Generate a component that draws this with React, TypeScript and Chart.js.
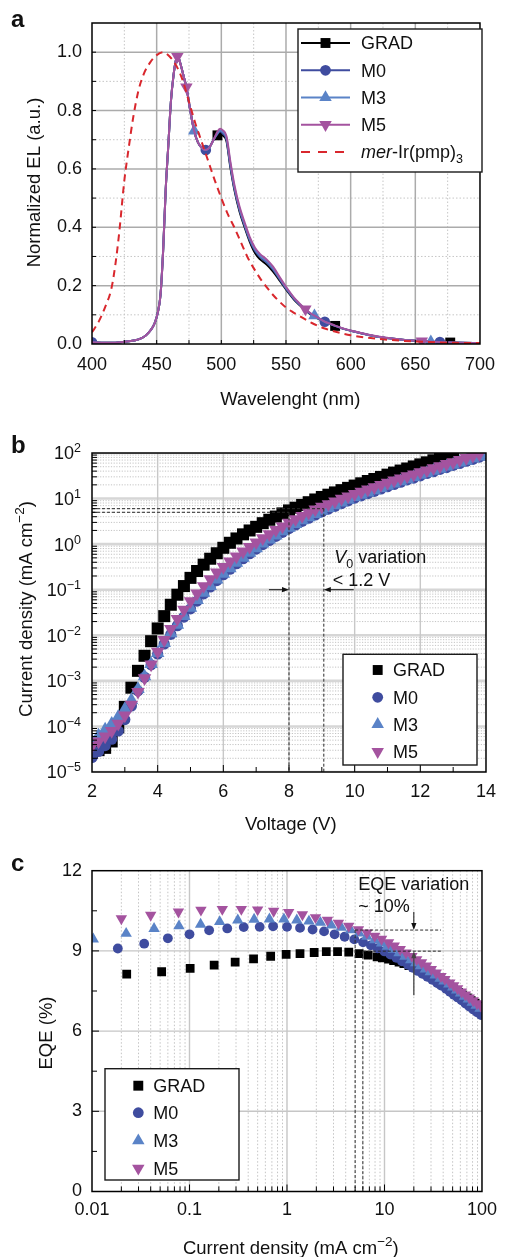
import React, { useEffect, useRef } from "react";
import { Chart, registerables } from "chart.js";

Chart.register(...registerables);

const FONT = '"Liberation Sans", Arial, Helvetica, sans-serif';
const INK = "#111111";

// ---------- shared series identity ----------
const seriesNames = ["GRAD", "M0", "M3", "M5"];
const seriesColors = ["#000000", "#3f4c9f", "#5a83c7", "#a4539f"];
const seriesShapes = ["rect", "circle", "triangle", "triangle"];
const seriesRotations = [0, 0, 0, 180];
const refName = "mer-Ir(pmp)3";
const refColor = "#d9272d";

// ---------- panel a : normalized EL spectra ----------
const wavelengths = [400, 410, 420, 430, 436, 440, 444, 447, 449, 451, 453, 455, 457, 459, 461, 463, 465, 466, 467, 469, 471, 473, 476, 479, 482, 485, 488, 491, 494, 497, 499, 501, 504, 507, 510, 514, 518, 522, 526, 530, 535, 540, 545, 550, 556, 560, 565, 568, 572, 576, 580, 584, 588, 596, 605, 615, 625, 640, 648, 655, 662, 669, 677, 685, 700];
const elGRAD = [0.006, 0.004, 0.005, 0.01, 0.016, 0.024, 0.04, 0.058, 0.078, 0.11, 0.17, 0.32, 0.53, 0.68, 0.83, 0.92, 0.975, 0.985, 0.98, 0.95, 0.915, 0.88, 0.8, 0.73, 0.69, 0.672, 0.665, 0.675, 0.7, 0.715, 0.72, 0.715, 0.695, 0.605, 0.53, 0.455, 0.4, 0.35, 0.312, 0.29, 0.272, 0.248, 0.218, 0.187, 0.153, 0.135, 0.116, 0.105, 0.094, 0.084, 0.075, 0.068, 0.062, 0.05, 0.04, 0.03, 0.022, 0.015, 0.012, 0.01, 0.008, 0.0065, 0.005, 0.004, 0.003];
const elM0 = [0.006, 0.004, 0.005, 0.01, 0.016, 0.024, 0.04, 0.058, 0.078, 0.11, 0.17, 0.32, 0.53, 0.68, 0.83, 0.92, 0.975, 0.985, 0.98, 0.95, 0.915, 0.88, 0.8, 0.73, 0.69, 0.672, 0.665, 0.675, 0.7, 0.72, 0.728, 0.722, 0.7, 0.61, 0.535, 0.46, 0.405, 0.355, 0.32, 0.298, 0.28, 0.255, 0.222, 0.19, 0.155, 0.137, 0.117, 0.106, 0.095, 0.085, 0.076, 0.069, 0.062, 0.05, 0.04, 0.03, 0.022, 0.015, 0.012, 0.01, 0.008, 0.0065, 0.005, 0.004, 0.003];
const elM3 = [0.006, 0.004, 0.005, 0.01, 0.016, 0.024, 0.04, 0.058, 0.078, 0.11, 0.17, 0.32, 0.53, 0.68, 0.83, 0.92, 0.975, 0.985, 0.98, 0.95, 0.915, 0.88, 0.8, 0.73, 0.69, 0.672, 0.665, 0.675, 0.7, 0.722, 0.732, 0.727, 0.706, 0.617, 0.54, 0.465, 0.41, 0.36, 0.325, 0.302, 0.284, 0.259, 0.226, 0.193, 0.158, 0.139, 0.119, 0.108, 0.097, 0.086, 0.076, 0.069, 0.062, 0.05, 0.04, 0.03, 0.022, 0.015, 0.012, 0.01, 0.008, 0.0065, 0.005, 0.004, 0.003];
const elM5 = [0.006, 0.004, 0.005, 0.01, 0.016, 0.024, 0.04, 0.058, 0.078, 0.11, 0.17, 0.32, 0.53, 0.68, 0.83, 0.92, 0.975, 0.985, 0.98, 0.95, 0.915, 0.88, 0.8, 0.73, 0.69, 0.672, 0.665, 0.675, 0.7, 0.728, 0.738, 0.733, 0.712, 0.625, 0.548, 0.472, 0.417, 0.366, 0.33, 0.308, 0.29, 0.265, 0.23, 0.196, 0.16, 0.141, 0.12, 0.109, 0.097, 0.087, 0.077, 0.07, 0.063, 0.051, 0.041, 0.031, 0.023, 0.015, 0.012, 0.01, 0.008, 0.0065, 0.005, 0.004, 0.003];
const markersGRAD = [497, 588, 677];
const markersM0 = [400, 488, 580, 669];
const markersM3 = [479, 572, 662];
const markersM5 = [466, 473, 565, 655];
const refWavelengths = [400, 405, 410, 415, 418, 421, 425, 428, 432, 436, 440, 445, 450, 455, 460, 465, 470, 475, 480, 485, 490, 495, 500, 505, 510, 515, 520, 525, 530, 535, 540, 545, 550, 555, 560, 570, 580, 590, 600, 620, 640, 660, 680, 700];
const refEL = [0.04, 0.075, 0.125, 0.19, 0.27, 0.38, 0.56, 0.66, 0.78, 0.87, 0.925, 0.965, 0.99, 1.0, 0.985, 0.955, 0.905, 0.83, 0.755, 0.69, 0.625, 0.56, 0.5, 0.445, 0.4, 0.35, 0.3, 0.26, 0.225, 0.195, 0.168, 0.145, 0.125, 0.11, 0.097, 0.072, 0.053, 0.04, 0.03, 0.018, 0.011, 0.007, 0.004, 0.003];
const aXTicks = [400, 450, 500, 550, 600, 650, 700];
const aYTicks = [0, 0.2, 0.4, 0.6, 0.8, 1.0];
const aXMajorGrid = [450, 500, 550, 600, 650];
const aXMinorGrid = [425, 475, 525, 575, 625, 675];
const aYMajorGrid = [0.2, 0.4, 0.6, 0.8, 1.0];
const aYMinorGrid = [0.1, 0.3, 0.5, 0.7, 0.9];

// ---------- panel b : J–V (log10 of current density, mA cm-2) ----------
const voltages = [2.0, 2.2, 2.4, 2.6, 2.8, 3.0, 3.2, 3.4, 3.6, 3.8, 4.0, 4.2, 4.4, 4.6, 4.8, 5.0, 5.2, 5.4, 5.6, 5.8, 6.0, 6.2, 6.4, 6.6, 6.8, 7.0, 7.2, 7.4, 7.6, 7.8, 8.0, 8.2, 8.4, 8.6, 8.8, 9.0, 9.2, 9.4, 9.6, 9.8, 10.0, 10.2, 10.4, 10.6, 10.8, 11.0, 11.2, 11.4, 11.6, 11.8, 12.0, 12.2, 12.4, 12.6, 12.8, 13.0, 13.2, 13.4, 13.6, 13.8, 14.0];
const jvLogGRAD = [-4.58, -4.52, -4.47, -4.33, -4.02, -3.57, -3.15, -2.78, -2.45, -2.13, -1.85, -1.58, -1.33, -1.11, -0.92, -0.74, -0.59, -0.45, -0.32, -0.2, -0.08, 0.03, 0.125, 0.215, 0.3, 0.38, 0.46, 0.535, 0.605, 0.675, 0.74, 0.8, 0.86, 0.92, 0.98, 1.035, 1.085, 1.135, 1.185, 1.235, 1.285, 1.335, 1.385, 1.43, 1.475, 1.525, 1.57, 1.615, 1.66, 1.705, 1.75, 1.795, 1.84, 1.885, 1.93, 1.975];
const jvLogM0 = [-4.68, -4.55, -4.42, -4.28, -4.1, -3.85, -3.55, -3.22, -2.92, -2.65, -2.41, -2.19, -1.98, -1.79, -1.6, -1.42, -1.25, -1.09, -0.94, -0.8, -0.67, -0.55, -0.43, -0.32, -0.21, -0.11, -0.01, 0.08, 0.17, 0.26, 0.34, 0.42, 0.5, 0.57, 0.64, 0.71, 0.77, 0.83, 0.89, 0.95, 1.01, 1.06, 1.11, 1.16, 1.21, 1.26, 1.31, 1.36, 1.41, 1.45, 1.5, 1.55, 1.59, 1.64, 1.68, 1.73, 1.77, 1.82, 1.86, 1.91, 1.95];
const jvLogM3 = [-4.32, -4.2, -4.07, -3.94, -3.79, -3.62, -3.42, -3.18, -2.9, -2.63, -2.39, -2.17, -1.96, -1.77, -1.58, -1.4, -1.23, -1.07, -0.92, -0.78, -0.65, -0.53, -0.41, -0.3, -0.19, -0.09, 0.01, 0.1, 0.19, 0.28, 0.36, 0.44, 0.52, 0.59, 0.66, 0.73, 0.79, 0.85, 0.91, 0.97, 1.03, 1.08, 1.13, 1.18, 1.23, 1.28, 1.33, 1.38, 1.42, 1.47, 1.52, 1.56, 1.61, 1.65, 1.7, 1.74, 1.79, 1.83, 1.88, 1.92, 1.97];
const jvLogM5 = [-4.43, -4.33, -4.22, -4.1, -3.94, -3.76, -3.52, -3.24, -2.94, -2.64, -2.36, -2.1, -1.86, -1.64, -1.44, -1.25, -1.08, -0.92, -0.77, -0.62, -0.5, -0.38, -0.27, -0.16, -0.06, 0.04, 0.13, 0.22, 0.31, 0.39, 0.47, 0.55, 0.62, 0.69, 0.76, 0.82, 0.88, 0.94, 1.0, 1.05, 1.1, 1.15, 1.2, 1.25, 1.3, 1.35, 1.4, 1.44, 1.49, 1.53, 1.58, 1.62, 1.67, 1.71, 1.76, 1.8, 1.85, 1.89, 1.94, 1.98];
const bXTicks = [2, 4, 6, 8, 10, 12, 14];
const bYDecades = [-5, -4, -3, -2, -1, 0, 1, 2];
const bXMajorGrid = [4, 6, 8, 10, 12];
const bXMinorTicks = [3, 5, 7, 9, 11, 13];
const bGuideJ = [6, 5];
const bGuideV = [9.06, 8.0];
const bArrowJ = 0.1;
const bArrowFromV = [7.39, 9.97];

// ---------- panel c : EQE vs current density ----------
const eqeJGRAD = [0.0227, 0.0518, 0.1016, 0.179, 0.294, 0.454, 0.68, 0.98, 1.36, 1.9, 2.53, 3.3, 4.3, 5.5, 6.8, 8.4, 9.5, 11, 12.4, 14.1, 15.8, 17.8, 20, 22.4, 25.1, 28.2, 30.9, 34.7, 38, 42.7, 46.8, 51.3, 57.5, 63.1, 70.8, 77.6, 85.1, 95.5];
const eqeGRAD = [8.13, 8.22, 8.35, 8.47, 8.58, 8.7, 8.8, 8.87, 8.9, 8.94, 8.97, 8.97, 8.95, 8.9, 8.84, 8.78, 8.74, 8.69, 8.64, 8.58, 8.52, 8.45, 8.38, 8.3, 8.22, 8.13, 8.05, 7.95, 7.86, 7.76, 7.66, 7.56, 7.45, 7.35, 7.24, 7.14, 7.05, 6.95];
const eqeJM0 = [0.0184, 0.0343, 0.06, 0.1, 0.159, 0.244, 0.36, 0.525, 0.72, 1.0, 1.36, 1.83, 2.4, 3.08, 3.9, 4.9, 6.03, 7.24, 8.51, 10, 11.5, 13.2, 15.1, 17.4, 19.5, 21.9, 24.5, 27.5, 30.9, 34.7, 38.0, 42.7, 46.8, 51.3, 56.2, 61.7, 67.6, 74.1, 81.3, 89.1, 97.7];
const eqeM0 = [9.09, 9.27, 9.47, 9.62, 9.77, 9.84, 9.89, 9.9, 9.92, 9.9, 9.86, 9.8, 9.73, 9.62, 9.53, 9.43, 9.32, 9.21, 9.1, 8.98, 8.86, 8.74, 8.61, 8.48, 8.37, 8.25, 8.14, 8.03, 7.92, 7.8, 7.7, 7.58, 7.47, 7.36, 7.26, 7.15, 7.03, 6.92, 6.81, 6.7, 6.6];
const eqeJM3 = [0.0103, 0.0224, 0.0433, 0.078, 0.13, 0.204, 0.313, 0.46, 0.66, 0.93, 1.26, 1.68, 2.2, 2.85, 3.6, 4.5, 5.5, 6.6, 7.94, 9.33, 10.7, 12.3, 14.1, 16.2, 18.6, 20.9, 23.4, 26.3, 29.5, 33.1, 37.2, 40.7, 45.7, 50.1, 55.0, 60.3, 66.1, 72.4, 79.4, 87.1, 95.5];
const eqeM3 = [9.44, 9.65, 9.83, 9.93, 9.99, 10.09, 10.15, 10.18, 10.19, 10.19, 10.15, 10.11, 10.06, 9.96, 9.88, 9.78, 9.66, 9.54, 9.41, 9.29, 9.17, 9.05, 8.92, 8.79, 8.66, 8.55, 8.44, 8.32, 8.21, 8.09, 7.97, 7.87, 7.75, 7.64, 7.53, 7.42, 7.3, 7.19, 7.07, 6.96, 6.85];
const eqeJM5 = [0.02, 0.04, 0.077, 0.131, 0.217, 0.34, 0.5, 0.73, 1.04, 1.44, 1.96, 2.6, 3.37, 4.3, 5.4, 6.6, 7.94, 9.33, 11.0, 12.6, 14.5, 16.6, 19.1, 21.4, 24.0, 26.9, 30.2, 33.9, 38.0, 41.7, 46.8, 51.3, 56.2, 61.7, 67.6, 74.1, 81.3, 89.1, 97.7];
const eqeM5 = [10.21, 10.34, 10.46, 10.53, 10.56, 10.56, 10.54, 10.49, 10.44, 10.36, 10.25, 10.15, 10.04, 9.93, 9.8, 9.68, 9.56, 9.44, 9.31, 9.19, 9.06, 8.93, 8.8, 8.68, 8.56, 8.44, 8.31, 8.18, 8.05, 7.94, 7.81, 7.7, 7.59, 7.47, 7.36, 7.25, 7.14, 7.03, 6.93];
const cXTicks = [0.01, 0.1, 1, 10, 100];
const cYTicks = [0, 3, 6, 9, 12];
const cXMajorGrid = [0.1, 1, 10];
const cYMajorGrid = [3, 6, 9];
const cYMinorTicks = [1.5, 4.5, 7.5, 10.5];
const cGuideJ = [5, 6];
const cGuideEQE = [9.78, 8.99];
const cGuideJEnd = 38;
const cArrowJ = 20;
const cArrowFromEQE = [10.46, 7.34];

// ---------- styles ----------
const aMarkerRadius = [7, 5.3, 7.2, 7.2];
const bMarkerRadius = [8.5, 5.6, 7.8, 7.8];
const cMarkerRadius = [6.2, 4.9, 6.6, 6.6];
const legendRadius = [7, 5.4, 7.2, 7.2];
const TITLE_SIZE = 18.5;

// ---------- drawing helpers ----------
type Run = { t: string; size?: number; italic?: boolean; bold?: boolean; dy?: number };

function fontOf(r: Run) {
  return `${r.italic ? "italic " : ""}${r.bold ? "bold " : ""}${r.size ?? 18}px ${FONT}`;
}

function drawRuns(ctx: any, runs: Run[], x: number, y: number, align = "left", angle = 0) {
  ctx.save();
  ctx.translate(x, y);
  if (angle) ctx.rotate(angle);
  ctx.fillStyle = INK;
  ctx.textBaseline = "alphabetic";
  ctx.textAlign = "left";
  let w = 0;
  for (const r of runs) {
    ctx.font = fontOf(r);
    w += ctx.measureText(r.t).width;
  }
  let cx = align === "center" ? -w / 2 : align === "right" ? -w : 0;
  for (const r of runs) {
    ctx.font = fontOf(r);
    ctx.fillText(r.t, cx, r.dy ?? 0);
    cx += ctx.measureText(r.t).width;
  }
  ctx.restore();
}

function marker(ctx: any, shape: string, rot: number, x: number, y: number, r: number, color: string) {
  ctx.save();
  ctx.fillStyle = color;
  ctx.beginPath();
  if (shape === "rect") {
    const s = r * Math.SQRT1_2;
    ctx.rect(x - s, y - s, 2 * s, 2 * s);
  } else if (shape === "circle") {
    ctx.arc(x, y, r, 0, Math.PI * 2);
  } else {
    let a = (rot * Math.PI) / 180;
    ctx.moveTo(x + Math.sin(a) * r, y - Math.cos(a) * r);
    a += (2 * Math.PI) / 3;
    ctx.lineTo(x + Math.sin(a) * r, y - Math.cos(a) * r);
    a += (2 * Math.PI) / 3;
    ctx.lineTo(x + Math.sin(a) * r, y - Math.cos(a) * r);
    ctx.closePath();
  }
  ctx.fill();
  ctx.restore();
}

function px(chart: any, axis: string, v: number) {
  return chart.scales[axis].getPixelForValue(v);
}

function gridLines(chart: any, axis: string, values: number[], color: string, width: number, dash: number[]) {
  const { ctx, chartArea: a } = chart;
  ctx.save();
  ctx.beginPath();
  ctx.rect(a.left, a.top, a.right - a.left, a.bottom - a.top);
  ctx.clip();
  ctx.strokeStyle = color;
  ctx.lineWidth = width;
  ctx.setLineDash(dash);
  for (const v of values) {
    const p = px(chart, axis, v);
    ctx.beginPath();
    if (axis === "x") {
      ctx.moveTo(p, a.top);
      ctx.lineTo(p, a.bottom);
    } else {
      ctx.moveTo(a.left, p);
      ctx.lineTo(a.right, p);
    }
    ctx.stroke();
  }
  ctx.restore();
}

function inwardTicks(chart: any, axis: string, values: number[], len: number) {
  const { ctx, chartArea: a } = chart;
  ctx.save();
  ctx.strokeStyle = "#000";
  ctx.lineWidth = 1;
  ctx.setLineDash([]);
  for (const v of values) {
    const p = px(chart, axis, v);
    ctx.beginPath();
    if (axis === "x") {
      ctx.moveTo(p, a.bottom);
      ctx.lineTo(p, a.bottom - len);
    } else {
      ctx.moveTo(a.left, p);
      ctx.lineTo(a.left + len, p);
    }
    ctx.stroke();
  }
  ctx.restore();
}

function frame(chart: any) {
  const { ctx, chartArea: a } = chart;
  ctx.save();
  ctx.strokeStyle = "#000";
  ctx.lineWidth = 1.5;
  ctx.setLineDash([]);
  ctx.strokeRect(a.left, a.top, a.right - a.left, a.bottom - a.top);
  ctx.restore();
}

function dashedSeg(chart: any, x1: number, y1: number, x2: number, y2: number) {
  const ctx = chart.ctx;
  ctx.save();
  ctx.strokeStyle = "#2a2a2a";
  ctx.lineWidth = 1;
  ctx.setLineDash([3, 2]);
  ctx.beginPath();
  ctx.moveTo(px(chart, "x", x1), px(chart, "y", y1));
  ctx.lineTo(px(chart, "x", x2), px(chart, "y", y2));
  ctx.stroke();
  ctx.restore();
}

function arrow(chart: any, x1: number, y1: number, x2: number, y2: number, color: string, width: number) {
  const ctx = chart.ctx;
  const ax = px(chart, "x", x1), ay = px(chart, "y", y1);
  const bx = px(chart, "x", x2), by = px(chart, "y", y2);
  const ang = Math.atan2(by - ay, bx - ax);
  const hl = 7, hw = 2.6;
  const c = Math.cos(ang), s = Math.sin(ang);
  ctx.save();
  ctx.strokeStyle = color;
  ctx.fillStyle = color;
  ctx.lineWidth = width;
  ctx.setLineDash([]);
  ctx.beginPath();
  ctx.moveTo(ax, ay);
  ctx.lineTo(bx - c * hl * 0.8, by - s * hl * 0.8);
  ctx.stroke();
  ctx.beginPath();
  ctx.moveTo(bx, by);
  ctx.lineTo(bx - c * hl - s * hw, by - s * hl + c * hw);
  ctx.lineTo(bx - c * hl + s * hw, by - s * hl - c * hw);
  ctx.closePath();
  ctx.fill();
  ctx.restore();
}

function legendFrame(ctx: any, x: number, y: number, w: number, h: number) {
  ctx.save();
  ctx.fillStyle = "#ffffff";
  ctx.fillRect(x, y, w, h);
  ctx.strokeStyle = "#1a1a1a";
  ctx.lineWidth = 1.4;
  ctx.setLineDash([]);
  ctx.strokeRect(x, y, w, h);
  ctx.restore();
}

function logMinors(fromExp: number, toExp: number) {
  const out: number[] = [];
  for (let e = fromExp; e < toExp; e++) for (let k = 2; k <= 9; k++) out.push(k * Math.pow(10, e));
  return out;
}

const refRuns: Run[] = [{ t: "mer", italic: true }, { t: "-Ir(pmp)" }, { t: "3", size: 12.5, dy: 5 }];
const jUnitRuns: Run[] = [{ t: "Current density (mA cm", size: TITLE_SIZE }, { t: "\u22122", size: 13.5, dy: -7.5 }, { t: ")", size: TITLE_SIZE }];

function scatterLegend(chart: any, bx: number, by: number, bw: number, bh: number, rows: number[], mx: number, tx: number) {
  const ctx = chart.ctx;
  legendFrame(ctx, bx, by, bw, bh);
  chart.data.datasets.forEach((ds: any, i: number) => {
    marker(ctx, ds.pointStyle, ds.pointRotation, mx, rows[i], legendRadius[i], ds.pointBackgroundColor);
    drawRuns(ctx, [{ t: ds.label }], tx, rows[i] + 6.4, "left");
  });
}

function decor(under: (c: any) => void, over: (c: any) => void) {
  return {
    id: "decor",
    beforeDatasetsDraw(chart: any) {
      under(chart);
    },
    afterDatasetsDraw(chart: any) {
      over(chart);
    },
  };
}

// ---------- axis builders ----------
const tickFont = { family: FONT, size: 18 };

function xAxis(type: string, min: number, max: number, values: number[], height: number, pad: number, fmt: (v: number) => string) {
  return {
    type, min, max, position: "bottom",
    grid: { display: false, drawTicks: false },
    border: { display: false },
    afterBuildTicks: (s: any) => { s.ticks = values.map((v) => ({ value: v })); },
    afterFit: (s: any) => { s.height = height; },
    ticks: { display: true, font: tickFont, color: INK, padding: pad, autoSkip: false, maxRotation: 0, minRotation: 0, callback: (v: any) => fmt(Number(v)) },
  };
}

function yAxis(type: string, min: number, max: number, values: number[], show: boolean, fmt: (v: number) => string) {
  return {
    type, min, max, position: "left",
    grid: { display: false, drawTicks: false },
    border: { display: false },
    afterBuildTicks: (s: any) => { s.ticks = values.map((v) => ({ value: v })); },
    afterFit: (s: any) => { s.width = 92; },
    ticks: { display: show, font: tickFont, color: INK, padding: 10, autoSkip: false, callback: (v: any) => fmt(Number(v)) },
  };
}

function baseOptions(x: any, y: any, padTop: number): any {
  return {
    responsive: false,
    maintainAspectRatio: false,
    animation: false,
    devicePixelRatio: 1,
    events: [],
    layout: { padding: { left: 0, right: 17, top: padTop, bottom: 0 } },
    plugins: { legend: { display: false }, tooltip: { enabled: false }, title: { display: false } },
    scales: { x, y },
  };
}

// ---------- panel a ----------
function underA(chart: any) {
  gridLines(chart, "x", aXMinorGrid, "#c6c6c6", 1, [1.5, 2]);
  gridLines(chart, "y", aYMinorGrid, "#c6c6c6", 1, [1.5, 2]);
  gridLines(chart, "x", aXMajorGrid, "#ababab", 1.5, []);
  gridLines(chart, "y", aYMajorGrid, "#ababab", 1.5, []);
}

function overA(chart: any) {
  const ctx = chart.ctx;
  frame(chart);
  inwardTicks(chart, "x", aXMajorGrid.concat(aXMinorGrid), 4);
  inwardTicks(chart, "y", aYMajorGrid.concat(aYMinorGrid), 4);
  legendFrame(ctx, 298, 29, 184, 143);
  const rows = [43, 70.3, 97.5, 124.7, 152];
  chart.data.datasets.forEach((ds: any, i: number) => {
    const y = rows[i];
    ctx.save();
    ctx.strokeStyle = ds.borderColor;
    ctx.lineWidth = 2;
    ctx.setLineDash(ds.borderDash ? [9, 8] : []);
    ctx.beginPath();
    ctx.moveTo(301, y);
    ctx.lineTo(350, y);
    ctx.stroke();
    ctx.restore();
    if (!ds.borderDash) marker(ctx, ds.pointStyle, ds.pointRotation, 325.5, y, legendRadius[i], ds.borderColor);
    drawRuns(ctx, ds.label === refName ? refRuns : [{ t: ds.label }], 361, y + 6.4, "left");
  });
  drawRuns(ctx, [{ t: "Normalized EL (a.u.)", size: TITLE_SIZE }], 33 + 6.5, 182.5, "center", -Math.PI / 2);
  drawRuns(ctx, [{ t: "Wavelenght (nm)", size: TITLE_SIZE }], 290.3, 398 + 6.5, "center");
  drawRuns(ctx, [{ t: "a", bold: true, size: 24 }], 11, 26.7, "left");
}

function buildA(): any {
  const vals = [elGRAD, elM0, elM3, elM5];
  const marks = [markersGRAD, markersM0, markersM3, markersM5];
  const datasets: any[] = vals.map((v, i) => ({
    type: "line",
    label: seriesNames[i],
    data: v.map((y, k) => ({ x: wavelengths[k], y })),
    borderColor: seriesColors[i],
    backgroundColor: seriesColors[i],
    borderWidth: 2,
    fill: false,
    cubicInterpolationMode: "monotone",
    pointStyle: seriesShapes[i],
    pointRotation: seriesRotations[i],
    pointBackgroundColor: seriesColors[i],
    pointBorderColor: seriesColors[i],
    pointBorderWidth: 0,
    pointRadius: (c: any) => (marks[i].includes(wavelengths[c.dataIndex]) ? aMarkerRadius[i] : 0),
    order: 4 - i,
  }));
  datasets.push({
    type: "line",
    label: refName,
    data: refWavelengths.map((x, k) => ({ x, y: refEL[k] })),
    borderColor: refColor,
    backgroundColor: refColor,
    borderWidth: 2,
    borderDash: [7, 5],
    fill: false,
    cubicInterpolationMode: "monotone",
    pointRadius: 0,
    order: 0,
  });
  const options = baseOptions(
    xAxis("linear", 400, 700, aXTicks, 76, 10, (v) => String(v)),
    yAxis("linear", 0, 1.1, aYTicks, true, (v) => v.toFixed(1)),
    23
  );
  return { type: "line", data: { datasets }, options, plugins: [decor(underA, overA)] };
}

// ---------- panel b ----------
function underB(chart: any) {
  gridLines(chart, "y", logMinors(-5, 2), "#c4c4c4", 1, [1.2, 1.5]);
  gridLines(chart, "y", bYDecades.map((e) => Math.pow(10, e)), "#d6d6d6", 2.6, []);
  gridLines(chart, "x", bXMajorGrid, "#c8c8c8", 1.4, []);
}

function overB(chart: any) {
  const ctx = chart.ctx;
  dashedSeg(chart, 2, bGuideJ[0], bGuideV[0], bGuideJ[0]);
  dashedSeg(chart, 2, bGuideJ[1], bGuideV[1], bGuideJ[1]);
  dashedSeg(chart, bGuideV[0], bGuideJ[0], bGuideV[0], 1e-5);
  dashedSeg(chart, bGuideV[1], bGuideJ[1], bGuideV[1], 1e-5);
  arrow(chart, bArrowFromV[0], bArrowJ, bGuideV[1], bArrowJ, "#111", 1);
  arrow(chart, bArrowFromV[1], bArrowJ, bGuideV[0], bArrowJ, "#111", 1);
  drawRuns(ctx, [{ t: "V", italic: true }, { t: "0", size: 12.5, dy: 5 }, { t: " variation" }], 334.3, 143.1, "left");
  drawRuns(ctx, [{ t: "< 1.2 V" }], 332.7, 165.7, "left");
  frame(chart);
  inwardTicks(chart, "x", bXMinorTicks, 5);
  inwardTicks(chart, "x", bXMajorGrid, 7);
  inwardTicks(chart, "y", logMinors(-5, 2), 5);
  for (const e of bYDecades) {
    const p = px(chart, "y", Math.pow(10, e));
    const ex = e < 0 ? "\u2212" + String(-e) : String(e);
    drawRuns(ctx, [{ t: "10" }, { t: ex, size: 12.5, dy: -7 }], 81, p + 6.4, "right");
  }
  scatterLegend(chart, 343, 234.3, 134, 110.7, [250, 277.3, 304.3, 331.7], 377.7, 393);
  drawRuns(ctx, jUnitRuns, 25 + 6.5, 189, "center", -Math.PI / 2);
  drawRuns(ctx, [{ t: "Voltage (V)", size: TITLE_SIZE }], 290.8, 403.3 + 6.5, "center");
  drawRuns(ctx, [{ t: "b", bold: true, size: 24 }], 11, 33.3, "left");
}

function buildB(): any {
  const vals = [jvLogGRAD, jvLogM0, jvLogM3, jvLogM5];
  const datasets = vals.map((v, i) => ({
    type: "scatter",
    label: seriesNames[i],
    data: v.map((l, k) => ({ x: voltages[k], y: Math.pow(10, l) })),
    showLine: false,
    backgroundColor: seriesColors[i],
    borderColor: seriesColors[i],
    pointStyle: seriesShapes[i],
    pointRotation: seriesRotations[i],
    pointBackgroundColor: seriesColors[i],
    pointBorderWidth: 0,
    pointRadius: bMarkerRadius[i],
    order: 4 - i,
  }));
  const options = baseOptions(
    xAxis("linear", 2, 14, bXTicks, 68, 9, (v) => String(v)),
    yAxis("logarithmic", 1e-5, 100, bYDecades.map((e) => Math.pow(10, e)), false, (v) => String(v)),
    33
  );
  return { type: "scatter", data: { datasets }, options, plugins: [decor(underB, overB)] };
}

// ---------- panel c ----------
function underC(chart: any) {
  gridLines(chart, "x", logMinors(-2, 2), "#c4c4c4", 1, [1.5, 2]);
  gridLines(chart, "x", cXMajorGrid, "#c6c6c6", 1.4, []);
  gridLines(chart, "y", cYMajorGrid, "#c6c6c6", 1.4, []);
}

function overC(chart: any) {
  const ctx = chart.ctx;
  dashedSeg(chart, cGuideJ[0], cGuideEQE[0], cGuideJ[0], 0);
  dashedSeg(chart, cGuideJ[1], cGuideEQE[1], cGuideJ[1], 0);
  dashedSeg(chart, cGuideJ[0], cGuideEQE[0], cGuideJEnd, cGuideEQE[0]);
  dashedSeg(chart, cGuideJ[1], cGuideEQE[1], cGuideJEnd, cGuideEQE[1]);
  arrow(chart, cArrowJ, cArrowFromEQE[0], cArrowJ, cGuideEQE[0], "#111", 1);
  arrow(chart, cArrowJ, cArrowFromEQE[1], cArrowJ, cGuideEQE[1], "#444", 1.3);
  drawRuns(ctx, [{ t: "EQE variation" }], 358.3, 50.4, "left");
  drawRuns(ctx, [{ t: "~ 10%" }], 358.3, 72.4, "left");
  frame(chart);
  inwardTicks(chart, "x", logMinors(-2, 2), 5);
  inwardTicks(chart, "x", cXMajorGrid, 7);
  inwardTicks(chart, "y", cYMinorTicks, 5);
  inwardTicks(chart, "y", cYMajorGrid, 7);
  scatterLegend(chart, 105, 228.7, 134, 111.3, [245.7, 272.7, 300.7, 328.3], 138.3, 153.3);
  drawRuns(ctx, [{ t: "EQE (%)", size: TITLE_SIZE }], 45 + 6.5, 193, "center", -Math.PI / 2);
  drawRuns(ctx, jUnitRuns, 290.8, 407 + 6.5, "center");
  drawRuns(ctx, [{ t: "c", bold: true, size: 24 }], 11, 30.7, "left");
}

function buildC(): any {
  const js = [eqeJGRAD, eqeJM0, eqeJM3, eqeJM5];
  const vals = [eqeGRAD, eqeM0, eqeM3, eqeM5];
  const datasets = vals.map((v, i) => ({
    type: "scatter",
    label: seriesNames[i],
    data: v.map((y, k) => ({ x: js[i][k], y })),
    showLine: false,
    backgroundColor: seriesColors[i],
    borderColor: seriesColors[i],
    pointStyle: seriesShapes[i],
    pointRotation: seriesRotations[i],
    pointBackgroundColor: seriesColors[i],
    pointBorderWidth: 0,
    pointRadius: cMarkerRadius[i],
    order: 4 - i,
  }));
  const options = baseOptions(
    xAxis("logarithmic", 0.01, 100, cXTicks, 65.5, 8, (v) => String(v)),
    yAxis("linear", 0, 12, cYTicks, true, (v) => String(v)),
    30.7
  );
  return { type: "scatter", data: { datasets }, options, plugins: [decor(underC, overC)] };
}

// ---------- components ----------
function ChartPanel(props: { top: number; height: number; build: () => any }) {
  const ref = useRef<HTMLCanvasElement | null>(null);
  useEffect(() => {
    const el = ref.current;
    if (!el) return;
    const chart = new Chart(el, props.build());
    return () => chart.destroy();
  }, []);
  return (
    <canvas
      ref={ref}
      width={505}
      height={props.height}
      style={{ position: "absolute", left: 0, top: props.top, width: 505, height: props.height, display: "block" }}
    />
  );
}

export default function App() {
  return (
    <div style={{ position: "absolute", left: 0, top: 0, width: 505, height: 1257, background: "#ffffff", overflow: "hidden" }}>
      <ChartPanel top={0} height={420} build={buildA} />
      <ChartPanel top={420} height={420} build={buildB} />
      <ChartPanel top={840} height={417} build={buildC} />
    </div>
  );
}
